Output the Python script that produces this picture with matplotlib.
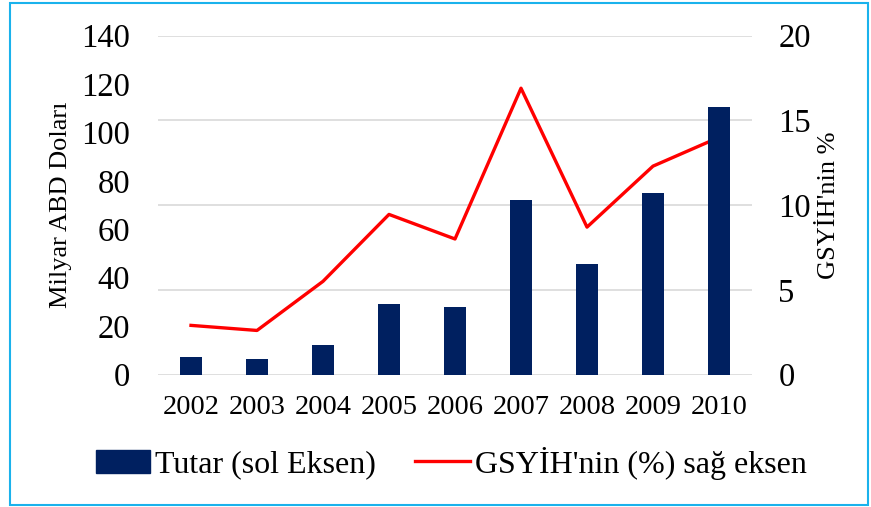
import matplotlib.pyplot as plt
import matplotlib.patches as mpatches
import numpy as np

# Veriler
years = ['2002', '2003', '2004', '2005', '2006', '2007', '2008', '2009', '2010']
tutar = [7.2, 6.5, 12.1, 29.0, 27.9, 72.1, 45.7, 75.0, 110.5]
gsyih_pay = [2.9, 2.6, 5.5, 9.45, 8.0, 16.9, 8.7, 12.3, 14.0]

plt.rcParams['font.family'] = ['Liberation Serif', 'DejaVu Serif']

fig = plt.figure(figsize=(8.71, 5.07), dpi=100)
ax = fig.add_axes([158 / 871, 1 - 374.5 / 507, (752 - 158) / 871, (374.5 - 35.7) / 507])
ax2 = ax.twinx()

x = np.arange(len(years))
ax.bar(x, tutar, width=0.34, color='#002060', zorder=3)

ax.set_xlim(-0.5, len(years) - 0.5)
ax.set_ylim(0, 140)
ax.set_yticks(range(0, 141, 20))
ax2.set_ylim(0, 20)
ax2.set_yticks(range(0, 21, 5))

# sağ eksenin ızgara çizgileri
ax2.grid(axis='y', color='#D9D9D9', linewidth=1.2)
ax2.set_axisbelow(True)
ax.set_zorder(ax2.get_zorder() + 1)
ax.patch.set_visible(False)

# çizgi çubukların üstünde kalsın
line_ax = fig.add_axes(ax.get_position(), sharex=ax)
line_ax.set_ylim(0, 20)
line_ax.plot(x, gsyih_pay, color='#FF0000', linewidth=2.4)
line_ax.axis('off')

ax.set_xticks(x)
ax.set_xticklabels(years, fontsize=20.5)
ax.tick_params(axis='x', length=0, pad=15)
ax.tick_params(axis='y', length=0, pad=20, labelsize=23.5)
ax2.tick_params(axis='y', length=0, pad=19, labelsize=23.5)

for a in (ax, ax2, line_ax):
    for s in a.spines.values():
        s.set_visible(False)

ax.set_ylabel('Milyar ABD Doları', fontsize=19, labelpad=7)
ax2.set_ylabel("GSYİH'nin %", fontsize=19, labelpad=5)

handles = [mpatches.Patch(color='#002060'),
           plt.Line2D([], [], color='#FF0000', linewidth=2.4)]
fig.legend(handles, ['Tutar (sol Eksen)', "GSYİH'nin (%) sağ eksen"],
           loc='center', bbox_to_anchor=(451 / 871, 1 - 463 / 507), ncol=2,
           frameon=False, fontsize=23, handlelength=1.7, handletextpad=0.15,
           columnspacing=1.25)

# dış çerçeve
fig.patches.append(mpatches.Rectangle((10 / 871, 2 / 507), 858 / 871, 502 / 507,
                                      transform=fig.transFigure, fill=False,
                                      edgecolor='#1AB2EC', linewidth=1.5))

fig.savefig('out.png', dpi=100)
